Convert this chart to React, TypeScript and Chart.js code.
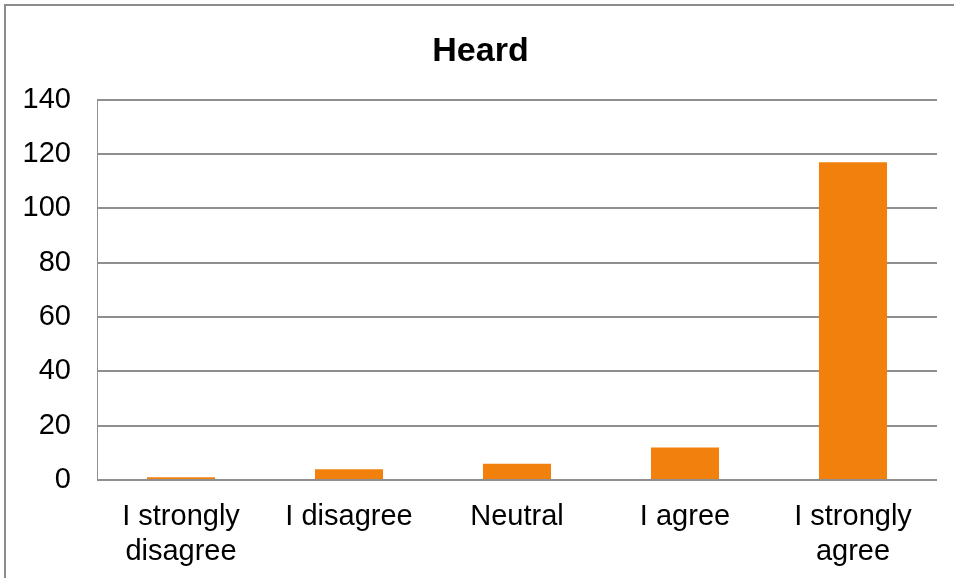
import React, { useEffect, useRef } from "react";
import { Chart, registerables } from "chart.js";

Chart.register(...registerables);

const categories: (string | string[])[] = [
  ["I strongly", "disagree"],
  "I disagree",
  "Neutral",
  "I agree",
  ["I strongly", "agree"],
];
const values: number[] = [1, 4, 6, 12, 117];
const yMin = 0;
const yMax = 140;
const yStep = 20;
const title = "Heard";

export default function App() {
  const ref = useRef<HTMLCanvasElement | null>(null);

  useEffect(() => {
    document.body.style.margin = "0";
    if (!ref.current) return;
    const font = "'Liberation Sans', Arial, sans-serif";
    const chart = new Chart(ref.current, {
      type: "bar",
      data: {
        labels: categories,
        datasets: [
          {
            data: values,
            backgroundColor: "#F1800C",
            borderWidth: 0,
            barPercentage: 0.405,
            categoryPercentage: 1,
          },
        ],
      },
      options: {
        animation: false,
        responsive: false,
        maintainAspectRatio: false,
        layout: { padding: { left: 24, right: 17, top: 0, bottom: 0 } },
        plugins: {
          legend: { display: false },
          tooltip: { enabled: false },
          title: {
            display: true,
            text: title,
            color: "#000",
            font: { family: font, size: 34, weight: "bold", lineHeight: 1.2 },
            padding: { top: 31, bottom: 28 },
          },
        },
        scales: {
          x: {
            grid: { display: false, drawTicks: false },
            border: { display: false },
            afterFit: (s: any) => {
              s.height = 98;
            },
            ticks: {
              color: "#000",
              font: { family: font, size: 29, lineHeight: 1.22 },
              padding: 19,
              maxRotation: 0,
              autoSkip: false,
            },
          },
          y: {
            min: yMin,
            max: yMax,
            afterFit: (s: any) => {
              s.width = 73;
            },
            grid: { color: "#8f8f8f", lineWidth: 2, drawTicks: false },
            border: { display: true, color: "#8f8f8f", width: 1 },
            ticks: {
              stepSize: yStep,
              color: "#000",
              font: { family: font, size: 29 },
              padding: 26,
            },
          },
        },
      },
    });
    return () => chart.destroy();
  }, []);

  return (
    <div style={{ position: "relative", width: 954, height: 578, overflow: "hidden", background: "#fff" }}>
      <canvas ref={ref} width={954} height={578} style={{ position: "absolute", left: 0, top: 0 }} />
      <div
        style={{
          position: "absolute",
          left: 4,
          top: 4,
          width: 1200,
          height: 1200,
          border: "2px solid #8c8c8c",
          pointerEvents: "none",
        }}
      />
    </div>
  );
}
